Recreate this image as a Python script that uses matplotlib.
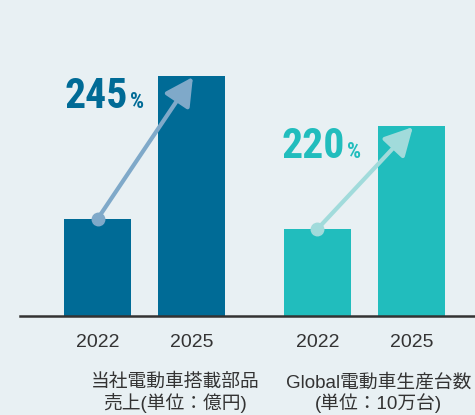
import numpy as np
import matplotlib.pyplot as plt
from matplotlib.patches import FancyArrowPatch

years = ['2022', '2025']
sales = [97, 240]          # 当社電動車搭載部品売上
production = [87, 190]     # Global電動車生産台数
growth = ['245', '220']
group_labels = ['当社電動車搭載部品\n売上(単位：億円)',
                'Global電動車生産台数\n(単位：10万台)']

bg = '#e8f0f3'
dark = '#006b96'
teal = '#21bdbd'
dark_arrow = '#7fa9c9'
teal_arrow = '#a1dbdb'
cond = ['Roboto Condensed', 'Archivo Narrow', 'DejaVu Sans']

fig = plt.figure(figsize=(4.75, 4.15), dpi=100, facecolor=bg)
ax = fig.add_axes([0, 0, 1, 1])
ax.set_facecolor(bg)
ax.set_xlim(-97.5 / 94, (475 - 97.5) / 94)
ax.set_ylim(-99, 316)
ax.axis('off')

groups = [np.array([0, 1]), np.array([2.34, 3.34])]
series = [sales, production]
colors = [dark, teal]
arrow_colors = [dark_arrow, teal_arrow]
label_x = [0.825, 2.99]
pct_pos = [(0.325, 208), (2.633, 158)]

for i, (x, vals, c, ac) in enumerate(zip(groups, series, colors, arrow_colors)):
    ax.bar(x, vals, width=0.713, color=c, zorder=2)
    for xi, yr in zip(x, years):
        ax.text(xi, -26, yr, ha='center', va='center', fontsize=14,
                color='#333333', family=['Liberation Sans', 'DejaVu Sans'])
    ax.text(label_x[i], -77, group_labels[i], ha='center', va='center',
            multialignment='center', fontsize=13.5, color='#333333',
            linespacing=1.1, family=['Liberation Sans', 'Noto Sans CJK JP'])
    # arrow from top of first bar to top of second bar
    arr = FancyArrowPatch((x[0], vals[0]), (x[1] + 0.015, vals[1] - 1),
                          arrowstyle='-|>,head_length=0.85,head_width=0.45',
                          mutation_scale=20, lw=3, color=ac, zorder=4,
                          shrinkA=0, shrinkB=0)
    ax.add_patch(arr)
    ax.plot(x[0], vals[0], 'o', ms=9, color=ac, zorder=5)

    px, py = pct_pos[i]
    ax.text(px, py, growth[i], ha='right', va='baseline', fontsize=30,
            fontweight='bold', fontstretch='condensed', color=c, family=cond)
    ax.text(px + 0.02, py, '%', ha='left', va='baseline', fontsize=16,
            fontweight='bold', fontstretch='condensed', color=c, family=cond)

ax.axhline(0, xmin=20 / 475, xmax=1, color='#333333', lw=1.8, zorder=3)

fig.savefig('out.png', dpi=100, facecolor=bg)
